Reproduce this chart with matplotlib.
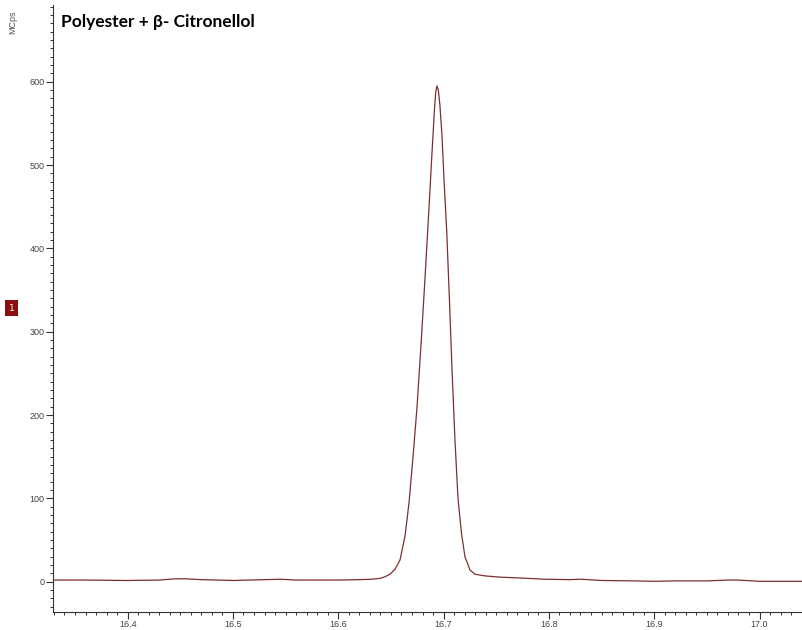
import matplotlib
matplotlib.use("Agg")
import matplotlib.pyplot as plt
from matplotlib.ticker import MultipleLocator, FixedLocator, FormatStrFormatter

# Retention time (min) and signal (MCps) of the chromatogram trace
time_min = [16.329, 16.36, 16.40, 16.43, 16.445, 16.455, 16.47, 16.50, 16.53,
            16.545, 16.56, 16.60, 16.62, 16.632,
            16.6396, 16.6444, 16.6491, 16.6539, 16.6586, 16.6634, 16.6672,
            16.6710, 16.6748, 16.6786, 16.6824, 16.6862, 16.6890, 16.6914,
            16.6925, 16.6937, 16.6950, 16.6965, 16.6985, 16.7005, 16.7030,
            16.7055, 16.7080,
            16.7108, 16.7137, 16.7170, 16.7203, 16.7251, 16.7298, 16.7393,
            16.7536, 16.7726, 16.7963, 16.82, 16.83, 16.85, 16.88, 16.90,
            16.92, 16.95, 16.97, 16.98, 17.00, 17.045]
signal_mcps = [2.0, 2.0, 1.5, 2.0, 3.5, 3.5, 2.5, 1.5, 2.5,
               3.0, 2.0, 2.0, 2.5, 3.0,
               4, 6, 9, 15, 26, 55, 95,
               150, 210, 285, 365, 450, 515, 568,
               587, 595, 590, 572, 535, 480, 420,
               340, 255,
               170, 100, 58, 30, 14, 9, 7,
               5.5, 4.5, 3.0, 2.5, 3.0, 1.5, 1.0, 0.5,
               1.0, 1.0, 2.0, 2.0, 0.5, 0.5]

x_major = [16.4, 16.5, 16.6, 16.7, 16.8, 16.9, 17.0]
y_major = [0, 100, 200, 300, 400, 500, 600]

title_text = "Polyester + β- Citronellol"
y_unit = "MCps"
trace_number = "1"

fig = plt.figure(figsize=(8.03, 6.30), dpi=100)
ax = fig.add_axes([0.0656, 0.029, 0.9344, 0.963])

ax.plot(time_min, signal_mcps, color="#7d2f2f", lw=0.9)

ax.set_xlim(16.3288, 17.0413)
ax.set_ylim(-36, 692)

for side in ("top", "right"):
    ax.spines[side].set_visible(False)
for side in ("left", "bottom"):
    ax.spines[side].set_color("#333333")
    ax.spines[side].set_linewidth(0.8)

ax.xaxis.set_major_locator(FixedLocator(x_major))
ax.xaxis.set_major_formatter(FormatStrFormatter("%.1f"))
ax.xaxis.set_minor_locator(MultipleLocator(0.01))
ax.yaxis.set_major_locator(FixedLocator(y_major))
ax.yaxis.set_minor_locator(MultipleLocator(10))

ax.tick_params(axis="both", which="major", length=5, width=0.8,
               color="#333333", labelsize=6.5, labelcolor="#444444", pad=1)
ax.tick_params(axis="both", which="minor", length=2.5, width=0.7,
               color="#333333")
for lbl in ax.get_xticklabels() + ax.get_yticklabels():
    lbl.set_family(["Liberation Sans", "DejaVu Sans"])

fig.text(0.0765, 0.965, title_text, fontsize=12.5, fontweight="bold",
         family=["Lato", "DejaVu Sans"], va="center", ha="left", color="black")
fig.text(0.0165, 0.965, y_unit, rotation=90, fontsize=6.5, color="#555555",
         va="center", ha="center", family=["Liberation Sans", "DejaVu Sans"])
fig.text(0.0145, 0.511, trace_number, fontsize=6.5, color="white",
         va="center", ha="center",
         bbox=dict(boxstyle="square,pad=0.4", fc="#8b0f0f", ec="none"))

fig.savefig("out.png", dpi=100, facecolor="white")
